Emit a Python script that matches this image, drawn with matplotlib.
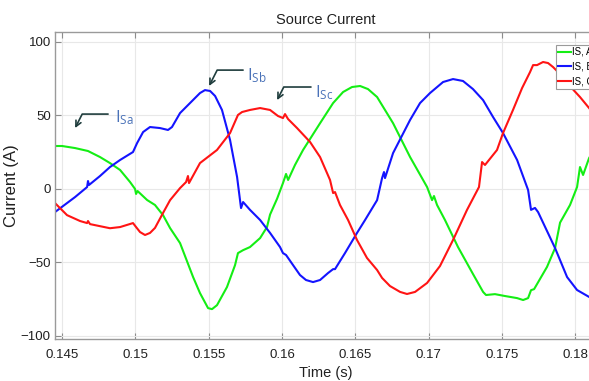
import matplotlib
matplotlib.use("Agg")
import matplotlib.pyplot as plt
import numpy as np

# phase A (green)
tA = [0.14452, 0.14500, 0.14589, 0.14677, 0.14759, 0.14827, 0.14896, 0.14964, 0.14998, 0.15005,
      0.15015, 0.15080, 0.15134, 0.15189, 0.15237, 0.15305, 0.15394, 0.15441, 0.15496, 0.15523,
      0.15557, 0.15625, 0.15680, 0.15700, 0.15735, 0.15782, 0.15851, 0.15898, 0.15919, 0.15967,
      0.16007, 0.16028, 0.16042, 0.16089, 0.16144, 0.16260, 0.16349, 0.16417, 0.16478, 0.16533,
      0.16587, 0.16649, 0.16758, 0.16874, 0.16990, 0.17024, 0.17037, 0.17058, 0.17112, 0.17201,
      0.17303, 0.17372, 0.17392, 0.17453, 0.17522, 0.17604, 0.17645, 0.17679, 0.17699, 0.17720,
      0.17808, 0.17863, 0.17897, 0.17965, 0.18013, 0.18033, 0.18054, 0.18095, 0.18149]
iA = [29.1, 29.1, 27.7, 25.7, 21.6, 17.5, 12.8, 4.6, -0.1, -3.5,
      -1.5, -7.6, -11.0, -17.9, -26.7, -36.9, -60.0, -70.9, -81.1, -81.8,
      -79.1, -66.8, -51.9, -43.7, -41.7, -39.6, -33.5, -26.0, -17.5, -6.7,
      3.9, 10.1, 6.0, 16.2, 26.4, 44.6, 58.3, 65.8, 69.2, 69.9,
      67.8, 62.4, 44.6, 21.6, 1.2, -7.7, -4.9, -11.0, -21.2, -39.6,
      -57.9, -70.1, -72.2, -71.6, -72.9, -74.3, -75.6, -74.3, -68.9, -68.2,
      -53.1, -40.3, -23.0, -11.0, 1.2, 14.8, 9.4, 20.9, 29.8]

# phase B (blue)
tB = [0.14452, 0.14534, 0.14589, 0.14671, 0.14677, 0.14684, 0.14759, 0.14827, 0.14896, 0.14984,
      0.15012, 0.15053, 0.15100, 0.15168, 0.15223, 0.15250, 0.15305, 0.15373, 0.15441, 0.15475,
      0.15510, 0.15544, 0.15591, 0.15646, 0.15694, 0.15714, 0.15721, 0.15735, 0.15782, 0.15851,
      0.15919, 0.15987, 0.16007, 0.16028, 0.16076, 0.16123, 0.16164, 0.16212, 0.16260, 0.16314,
      0.16349, 0.16362, 0.16430, 0.16512, 0.16567, 0.16649, 0.16683, 0.16696, 0.16703, 0.16758,
      0.16874, 0.16942, 0.17010, 0.17099, 0.17167, 0.17235, 0.17303, 0.17372, 0.17440, 0.17508,
      0.17604, 0.17679, 0.17699, 0.17726, 0.17747, 0.17863, 0.17945, 0.18013, 0.18095, 0.18149]
iB = [-15.8, -9.7, -5.6, 1.2, 5.3, 2.6, 8.7, 14.8, 19.6, 25.0,
      31.1, 38.6, 42.0, 41.3, 40.0, 42.0, 51.5, 58.3, 65.1, 67.1,
      66.5, 63.1, 53.6, 33.2, 8.0, -7.7, -13.1, -9.0, -14.3, -21.2,
      -30.0, -39.6, -43.7, -45.0, -51.9, -58.6, -62.0, -63.4, -62.0, -57.3,
      -54.6, -54.6, -43.7, -30.0, -21.2, -7.7, 7.3, 11.4, 7.3, 24.3,
      46.8, 58.3, 65.1, 72.6, 74.6, 73.3, 67.8, 60.3, 48.8, 37.9,
      19.6, -0.8, -14.3, -13.0, -15.8, -40.3, -60.0, -68.8, -73.5, -74.9]

# phase C (red)
tC = [0.14452, 0.14534, 0.14623, 0.14671, 0.14677, 0.14691, 0.14759, 0.14827, 0.14896, 0.14984,
      0.15005, 0.15032, 0.15066, 0.15100, 0.15134, 0.15189, 0.15237, 0.15305, 0.15346, 0.15359,
      0.15366, 0.15441, 0.15557, 0.15646, 0.15700, 0.15728, 0.15782, 0.15851, 0.15919, 0.15973,
      0.16007, 0.16021, 0.16042, 0.16103, 0.16192, 0.16260, 0.16328, 0.16349, 0.16362, 0.16396,
      0.16451, 0.16512, 0.16580, 0.16649, 0.16683, 0.16737, 0.16806, 0.16853, 0.16908, 0.16990,
      0.17078, 0.17167, 0.17262, 0.17344, 0.17365, 0.17385, 0.17467, 0.17508, 0.17576, 0.17638,
      0.17692, 0.17713, 0.17740, 0.17781, 0.17815, 0.17849, 0.17897, 0.17945, 0.18033, 0.18095,
      0.18149]
iC = [-9.7, -17.9, -21.9, -23.3, -21.9, -24.0, -25.4, -26.8, -26.0, -23.3,
      -26.0, -29.4, -31.4, -30.0, -26.6, -16.4, -7.7, 0.5, 4.6, 8.7,
      3.9, 17.5, 26.4, 37.9, 50.2, 52.2, 53.6, 54.9, 53.6, 49.5,
      48.1, 50.8, 47.4, 41.3, 31.8, 21.6, 6.0, -2.9, -2.2, -11.0,
      -21.2, -34.8, -47.0, -55.2, -60.6, -66.1, -70.1, -71.5, -70.1, -64.0,
      -52.5, -34.8, -14.4, 1.2, 18.2, 16.2, 26.4, 37.9, 53.6, 68.5,
      79.3, 84.1, 84.1, 86.2, 85.5, 82.8, 78.0, 71.9, 62.4, 54.9,
      48.1]

labels = ["IS, A", "IS, B", "IS, C"]
colors = ["#14ee14", "#1414ff", "#ff1414"]

xticks = [0.145, 0.15, 0.155, 0.16, 0.165, 0.17, 0.175, 0.18]
xticklabels = ["0.145", "0.15", "0.155", "0.16", "0.165", "0.17", "0.175", "0.18"]
yticks = [-100, -50, 0, 50, 100]

# callouts: text, arrow tip, end of the horizontal leader, text anchor
callouts = [
    (r"$\mathrm{I_{Sa}}$", (0.14589, 41.3), (0.14814, 50.8), (0.14862, 45.4)),
    (r"$\mathrm{I_{Sb}}$", (0.15503, 69.9), (0.15735, 80.7), (0.15762, 73.9)),
    (r"$\mathrm{I_{Sc}}$", (0.15967, 60.3), (0.16198, 69.2), (0.16226, 62.4)),
]

plt.rcParams["mathtext.fontset"] = "custom"
plt.rcParams["mathtext.rm"] = "Open Sans"
sans = ["Liberation Sans", "DejaVu Sans"]

fig = plt.figure(figsize=(5.89, 3.81), dpi=100)
ax = fig.add_axes([55 / 589, 42 / 381, 542 / 589, 307 / 381])

for t, cur, c, lab in zip([tA, tB, tC], [iA, iB, iC], colors, labels):
    ax.plot(t, cur, color=c, lw=1.5, label=lab)

ax.set_xlim(0.14452, 0.18149)
ax.set_ylim(-102.1, 106.6)
ax.set_xticks(xticks)
ax.set_xticklabels(xticklabels)
ax.set_yticks(yticks)
ax.grid(True, color="#e8e8e8", lw=0.8)
ax.tick_params(direction="in", length=4, top=True, right=True, colors="#8c8c8c",
               labelcolor="#202020", labelsize=9.5)
ax.tick_params(axis="x", pad=7)
ax.tick_params(axis="y", pad=3)
for lbl in ax.get_xticklabels() + ax.get_yticklabels():
    lbl.set_family(sans)
for sp in ax.spines.values():
    sp.set_color("#9a9a9a")
    sp.set_linewidth(1.0)

ax.set_title("Source Current", fontsize=10.5, family=sans, color="#202020", pad=6)
ax.set_xlabel("Time (s)", fontsize=10.5, family=sans, color="#202020", labelpad=4)
ax.set_ylabel("Current (A)", fontsize=12, family=sans, color="#202020", labelpad=1)

for txt, tip, start, pos in callouts:
    ax.annotate("", xy=tip, xytext=start,
                arrowprops=dict(arrowstyle="->", color="#1f3d3d", lw=1.2,
                                shrinkA=0, shrinkB=0,
                                connectionstyle="angle,angleA=0,angleB=63,rad=0"))
    ax.text(pos[0], pos[1], txt, color="#4a72b8", fontsize=12, ha="left", va="baseline")

leg = ax.legend(loc="upper left", bbox_to_anchor=(0.9244, 0.9577), borderaxespad=0,
                prop={"family": sans, "size": 7}, handlelength=1.3,
                handletextpad=0.1, borderpad=0.2, labelspacing=0.5, fancybox=False,
                framealpha=1)
leg.get_frame().set_edgecolor("#9a9a9a")
leg.get_frame().set_linewidth(0.8)

fig.savefig("out.png", dpi=100)
